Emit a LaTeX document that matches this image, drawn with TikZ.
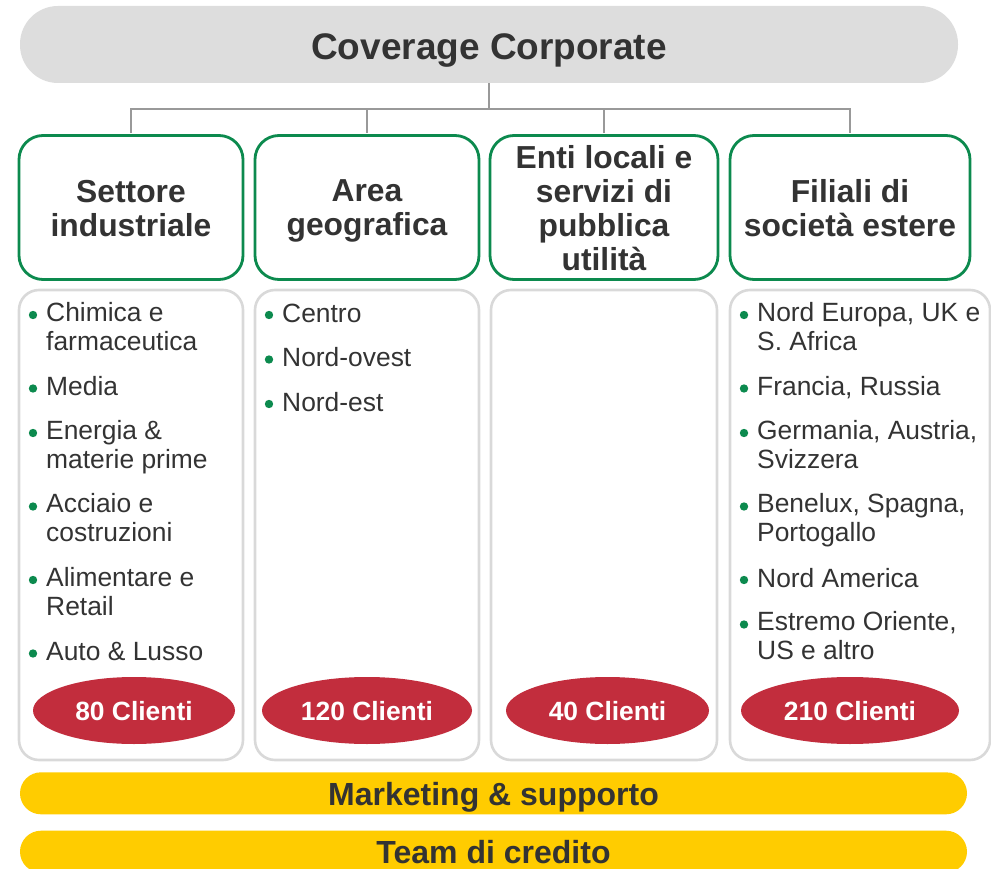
\documentclass[tikz,border=0pt]{standalone}
\usepackage{fontspec}
\setmainfont{Liberation Sans}
\usetikzlibrary{positioning,shapes.geometric}
\definecolor{darktext}{HTML}{333333}
\definecolor{headgray}{HTML}{DDDDDD}
\definecolor{linkgray}{HTML}{999999}
\definecolor{boxgray}{HTML}{D9D9D9}
\definecolor{covgreen}{HTML}{0C8A4E}
\definecolor{clired}{HTML}{C22D3D}
\definecolor{stripyellow}{HTML}{FFCC00}

\begin{document}
\begin{tikzpicture}[x=1pt,y=-1pt,
    link/.style={draw=linkgray,line width=2.6pt},
    covhead/.style={fill=headgray,rounded corners=38pt,minimum width=938pt,minimum height=77pt,
      text=darktext,font=\fontsize{37}{40}\selectfont\bfseries,text height=29.6pt,text depth=0pt},
    titlebox/.style={draw=covgreen,line width=2.8pt,fill=white,rounded corners=24pt,minimum height=144pt},
    titletext/.style={inner sep=0pt,align=center,text=darktext,font=\fontsize{31.8}{34}\selectfont\bfseries,
      execute at begin node=\rule{0pt}{30.4pt},execute at end node=\rule[-8pt]{0pt}{8pt}},
    listbox/.style={draw=boxgray,line width=2.6pt,rounded corners=20pt,minimum height=470pt},
    entry/.style={anchor=north west,inner sep=0pt,align=left,text=darktext,font=\fontsize{26.4}{29}\selectfont,
      execute at begin node=\rule{0pt}{20pt},execute at end node=\rule[-9pt]{0pt}{9pt}},
    bulletdot/.style={fill=covgreen},
    clients/.style={ellipse,fill=clired,text=white,minimum height=67pt,inner sep=0pt,
      font=\fontsize{26.4}{29}\selectfont\bfseries,text height=19pt,text depth=0pt},
    strip/.style={fill=stripyellow,rounded corners=21pt,minimum width=947pt,minimum height=42pt,
      text=darktext,font=\fontsize{32}{34}\selectfont\bfseries,text height=23.4pt,text depth=0pt}]
  \useasboundingbox (0,0) rectangle (991,869);

  \node[covhead] (cov) at (489,44.5) {Coverage Corporate};

  \foreach \x/\w/\txt [count=\k] in {131/224/{Settore\\industriale},367/224/{Area\\geografica},
      604/228/{Enti locali e\\servizi di\\pubblica\\utilità},850/240/{Filiali di\\società estere}}{
    \node[titlebox,minimum width=\w pt] (t\k) at (\x,207.5) {};
    \node[titletext] (tt\k) at ([yshift=-4.5pt]t\k.center) {\txt};
  }

  \coordinate (bus) at (489,109);
  \draw[link] (cov.south) -- (bus);
  \foreach \k in {1,...,4}
    \draw[link,shorten <=1.4pt] (t\k.north) |- (bus);

  \foreach \x/\w [count=\k] in {131/224,367/224,604/226,860/260}
    \node[listbox,minimum width=\w pt] (b\k) at (\x,525) {};

  \foreach \y/\txt [count=\k] in {322/{Chimica e\\farmaceutica},395.5/Media,440/{Energia \&\\materie prime},
      513.5/{Acciaio e\\costruzioni},587/{Alimentare e\\Retail},660.5/{Auto \& Lusso}}{
    \node[entry] (s\k) at (46,\y-20) {\txt};
    \fill[bulletdot] ([shift={(-13pt,-13pt)}]s\k.north west) circle (4.2pt);
  }
  \foreach \y/\txt [count=\k] in {322/Centro,366.5/Nord-ovest,411/Nord-est}{
    \node[entry] (g\k) at (282,\y-20) {\txt};
    \fill[bulletdot] ([shift={(-13pt,-13pt)}]g\k.north west) circle (4.2pt);
  }
  \foreach \y/\txt [count=\k] in {322/{Nord Europa, UK e\\S. Africa},395.5/{Francia, Russia},
      440/{Germania, Austria,\\Svizzera},513.5/{Benelux, Spagna,\\Portogallo},587/Nord America,
      631.5/{Estremo Oriente,\\US e altro}}{
    \node[entry] (f\k) at (757,\y-20) {\txt};
    \fill[bulletdot] ([shift={(-13pt,-13pt)}]f\k.north west) circle (4.2pt);
  }

  \foreach \x/\w/\n [count=\k] in {134/202/80,367/210/120,607.5/203/40,850/218/210}
    \node[clients,minimum width=\w pt] (n\k) at (\x,710.5) {\n\ Clienti};

  \node[strip] (mkt) at (493.5,793.3) {Marketing \& supporto};
  \node[strip] (crd) at (493.5,851.7) {Team di credito};
\end{tikzpicture}
\end{document}
